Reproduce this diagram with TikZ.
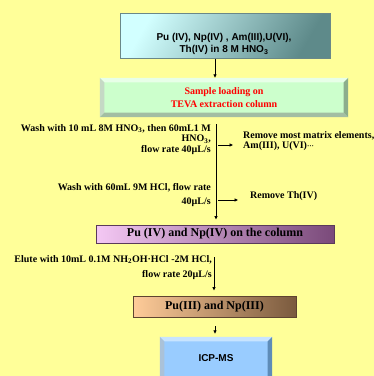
\documentclass[tikz,border=0pt]{standalone}
\usepackage{fontspec}
\setmainfont{Liberation Serif}
\setsansfont{Liberation Sans}
\usetikzlibrary{positioning,arrows.meta,calc}

\definecolor{paper}{HTML}{FFFF99}
\definecolor{feedlight}{HTML}{D2FFFF}
\definecolor{feeddark}{HTML}{5E8A8A}
\definecolor{feedline}{HTML}{6A8888}
\definecolor{loadface}{HTML}{CCFFCC}
\definecolor{loadlight}{HTML}{E8FFE8}
\definecolor{loaddark}{HTML}{8CAE8C}
\definecolor{colleft}{HTML}{F4C8F4}
\definecolor{colright}{HTML}{7A4A7A}
\definecolor{colline}{HTML}{5A3A5A}
\definecolor{prodleft}{HTML}{FFCC99}
\definecolor{prodright}{HTML}{7A5A3E}
\definecolor{prodline}{HTML}{5E4430}
\definecolor{icpface}{HTML}{99CCFF}
\definecolor{icplight}{HTML}{C8E4FF}
\definecolor{icpdark}{HTML}{5E8CB8}

% bevel edges of a raised box: node, inset, light colour, dark colour
\newcommand{\bevelbox}[4]{%
  \fill[#3] (#1.north west) -- (#1.north east) -- ($(#1.north east)+(-#2,#2)$) -- ($(#1.north west)+(#2,#2)$) -- cycle;
  \fill[#3!85!black] (#1.north west) -- ($(#1.north west)+(#2,#2)$) -- ($(#1.south west)+(#2,-#2)$) -- (#1.south west) -- cycle;
  \fill[#4] (#1.north east) -- (#1.south east) -- ($(#1.south east)+(-#2,-#2)$) -- ($(#1.north east)+(-#2,#2)$) -- cycle;
  \fill[#4!80!white] (#1.south west) -- (#1.south east) -- ($(#1.south east)+(-#2,-#2)$) -- ($(#1.south west)+(#2,-#2)$) -- cycle;
}

\begin{document}
\begin{tikzpicture}[x=1pt, y=-1pt,
  flow/.style={-{Triangle[length=3.5pt, width=3pt]}, line width=0.9pt},
  note/.style={inner sep=0pt},
  stepfont/.style={font=\fontsize{12}{14}\selectfont\bfseries},
]

\fill[paper] (0,0) rectangle (374,376);
\useasboundingbox (0,0) rectangle (374,376);

% === Feed solution ===
\node[draw=feedline, line width=0.8pt, left color=feedlight, right color=feeddark, shading angle=60,
  minimum width=210pt, minimum height=45pt] (feed) at (225,35.5) {};
\node[font=\sffamily\bfseries\fontsize{10}{12}\selectfont, align=center, inner sep=0pt]
  (feedtext) at (224,44) {Pu (IV), Np(IV) , Am(III),U(VI),\\Th(IV) in 8 M HNO\textsubscript{3}};

% === Loading on TEVA ===
\node[fill=loadface, minimum width=248pt, minimum height=39pt, inner sep=0pt] (load) at (224,97.5) {};
\bevelbox{load}{4.5}{loadlight}{loaddark}
\node[font=\fontsize{10}{13}\selectfont\bfseries, text=red, align=center] (loadtext) at (224,97.5)
  {Sample loading on\\TEVA extraction column};

\coordinate (top) at (215,59);
\draw[flow] (top) -- (top |- load.north);

% === First wash ===
\node[note, font=\fontsize{10}{10.5}\selectfont\bfseries, align=right, anchor=east] (wash1) at (211,139.5)
  {Wash with 10 mL 8M HNO\textsubscript{3}, then 60mL1 M\\HNO\textsubscript{3},\\flow rate 40µL/s};
\node[note, font=\fontsize{10}{10}\selectfont\bfseries, align=left, anchor=west] (remove1) at (243,141)
  {Remove most matrix elements,\\Am(III), U(VI){\scriptsize···}};

% === Second wash ===
\node[note, font=\fontsize{10}{14}\selectfont\bfseries, align=right, anchor=east] (wash2) at (211,195)
  {Wash with 60mL 9M HCl, flow rate\\40µL/s};
\node[note, font=\fontsize{10}{12}\selectfont\bfseries, anchor=west] (remove2) at (250,196) {Remove Th(IV)};

% === Pu and Np on column ===
\node[draw=colline, line width=0.8pt, left color=colleft, right color=colright,
  minimum width=238pt, minimum height=18pt, inner sep=0pt, stepfont] (column) at (215,234)
  {Pu (IV) and Np(IV) on the column};

\coordinate (wash) at (216,124);
\draw[flow, shorten >=5pt] (wash) -- (wash |- column.north);
\coordinate (rm1) at (218,145);
\draw[flow, shorten >=10pt] (rm1) -- (rm1 -| remove1.west);
\coordinate (rm2) at (218,200);
\draw[flow, shorten >=12pt] (rm2) -- (rm2 -| remove2.west);

% === Elution ===
\node[note, font=\fontsize{10}{15}\selectfont\bfseries, align=right, anchor=east] (elute) at (212,267.5)
  {Elute with 10mL 0.1M NH\textsubscript{2}OH·HCl -2M HCl,\\flow rate 20µL/s};

\node[draw=prodline, line width=0.8pt, left color=prodleft, right color=prodright,
  minimum width=163pt, minimum height=21pt, inner sep=0pt, stepfont]
  (product) at (214.5,306.5) {Pu(III) and Np(III)};

\coordinate (elu) at (214,257);
\draw[flow, shorten >=5pt] (elu) -- (elu |- product.north);

% === ICP-MS ===
\node[fill=icpface, minimum width=112pt, minimum height=44pt, inner sep=0pt] (icp) at (216,359) {};
\bevelbox{icp}{4.5}{icplight}{icpdark}
\node[font=\sffamily\bfseries\fontsize{10}{12}\selectfont] (icptext) at (216,358.5) {ICP-MS};

\coordinate (det) at (215,326);
\draw[flow, shorten >=3pt] (det) -- (det |- icp.north);

\end{tikzpicture}
\end{document}
